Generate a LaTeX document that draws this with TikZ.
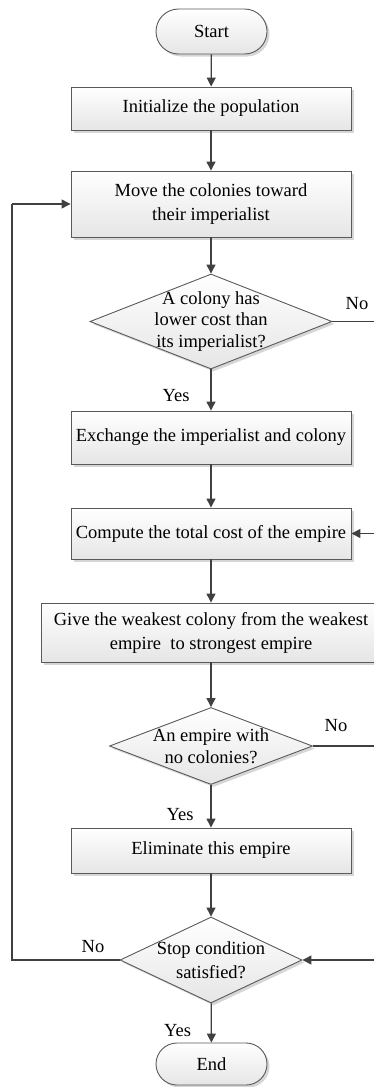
\documentclass[tikz,border=0pt]{standalone}
\usepackage{fontspec}
\setmainfont{Liberation Serif}
\usetikzlibrary{shapes.geometric,shapes.misc,arrows.meta,shadows}
\definecolor{linec}{HTML}{404040}
\definecolor{borderc}{HTML}{5A5A5A}
\begin{document}
\begin{tikzpicture}[x=1pt,y=-1pt,
  every node/.style={font=\fontsize{18.5}{24}\selectfont},
  shadowed/.style={drop shadow={shadow xshift=2.5pt,shadow yshift=-2.5pt,fill=black!16,opacity=1}},
  procbox/.style={draw=borderc,line width=0.9pt,top color=white,bottom color=black!10,shadowed,
    rectangle,inner sep=0pt,align=center,minimum width=280pt},
  termbox/.style={draw=borderc,line width=0.9pt,top color=white,bottom color=black!10,shadowed,
    rounded rectangle,inner sep=0pt,minimum width=111pt},
  decbox/.style={draw=borderc,line width=0.9pt,top color=white,bottom color=black!10,shadowed,
    diamond,inner sep=0pt},
  flow/.style={draw=linec,line width=1.3pt,-{Triangle[length=9pt,width=9pt]}},
  plain/.style={draw=linec,line width=1.3pt},
  lbl/.style={anchor=base,inner sep=0pt}
]
\useasboundingbox (0,0) rectangle (373,1087);

\node[termbox,minimum height=45pt] (start) at (211.5,31.5) {Start};
\node[procbox,minimum height=43pt] (init) at (211,108.5) {Initialize the population};
\node[procbox,minimum height=66pt] (move) at (211,204) {Move the colonies toward\\their imperialist};
\node[decbox,minimum width=242pt,minimum height=95pt,
  label={[align=center,font=\fontsize{18.5}{21.5}\selectfont]center:{A colony has\\lower cost than\\its imperialist?}}] (d1) at (211,321.5) {};
\node[procbox,minimum height=53pt] (exch) at (211,437.5) {Exchange the imperialist and colony};
\node[procbox,minimum height=51pt] (comp) at (211,533.5) {Compute the total cost of the empire};
\node[procbox,minimum width=340pt,minimum height=59pt] (give) at (211,632.5) {Give the weakest colony from the weakest\\empire~ to strongest empire};
\node[decbox,minimum width=203pt,minimum height=77pt,
  label={[align=center,font=\fontsize{18.5}{21.5}\selectfont]center:{An empire with\\no colonies?}}] (d2) at (211,746) {};
\node[procbox,minimum height=45pt] (elim) at (211,850.5) {Eliminate this empire};
\node[decbox,minimum width=182pt,minimum height=86pt,
  label={[align=center,font=\fontsize{18.5}{24}\selectfont]center:{Stop condition\\satisfied?}}] (d3) at (211,960) {};
\node[termbox,minimum height=42pt] (end) at (211.5,1064) {End};

\coordinate (r1a) at (385,321.5);
\coordinate (r1b) at (385,533.5);
\coordinate (r2a) at (385,746);
\coordinate (r2b) at (385,960);
\coordinate (l1a) at (12,960);
\coordinate (l1b) at (12,204);

\draw[flow] (start) -- (init);
\draw[flow] (init) -- (move);
\draw[flow] (move) -- (d1);
\draw[flow] (d1) -- (exch);
\draw[flow] (exch) -- (comp);
\draw[flow] (comp) -- (give);
\draw[flow] (give) -- (d2);
\draw[flow] (d2) -- (elim);
\draw[flow] (elim) -- (d3);
\draw[flow] (d3) -- (end);

\draw[plain] (d1.east) -- (r1a) -- (r1b);
\draw[flow] (r1b) -- (comp.east);
\draw[plain] (d2.east) -- (r2a) -- (r2b);
\draw[flow] (r2b) -- (d3.east);
\draw[plain] (d3.west) -- (l1a) -- (l1b);
\draw[flow] (l1b) -- (move.west);

\node[lbl] (yes1) at (176,401.5) {Yes};
\node[lbl] (no1) at (357,309) {No};
\node[lbl] (no2) at (336,731.5) {No};
\node[lbl] (yes2) at (180,820) {Yes};
\node[lbl] (no3) at (93,952.5) {No};
\node[lbl] (yes3) at (177.5,1036) {Yes};
\end{tikzpicture}
\end{document}
